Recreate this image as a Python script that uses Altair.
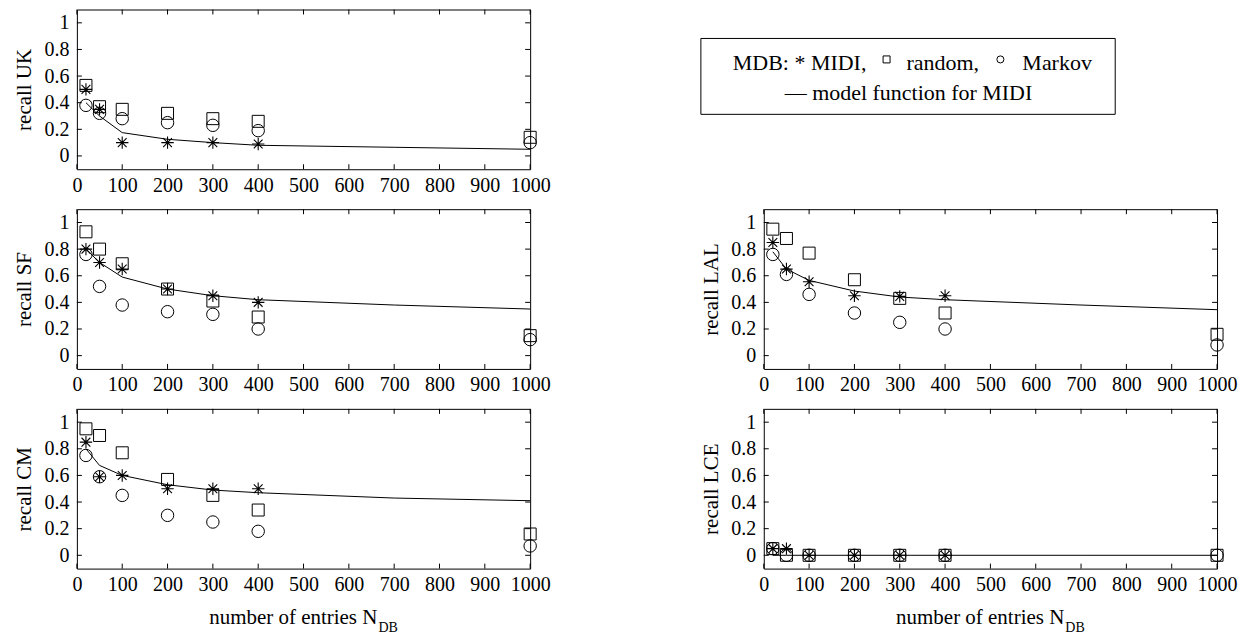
import altair as alt
import pandas as pd

# ---------------- data ----------------
x_pts = [20, 50, 100, 200, 300, 400, 1000]
x_midi = [20, 50, 100, 200, 300, 400]
x_model = [20, 50, 100, 200, 300, 400, 700, 1000]

x_ticks = [0, 100, 200, 300, 400, 500, 600, 700, 800, 900, 1000]
y_ticks = [0, 0.2, 0.4, 0.6, 0.8, 1]

uk_midi = [0.50, 0.35, 0.10, 0.10, 0.10, 0.09]
uk_random = [0.53, 0.37, 0.35, 0.32, 0.28, 0.26, 0.14]
uk_markov = [0.38, 0.32, 0.28, 0.25, 0.23, 0.19, 0.10]
uk_model = [0.40, 0.30, 0.175, 0.125, 0.10, 0.08, 0.065, 0.05]

sf_midi = [0.80, 0.70, 0.65, 0.50, 0.45, 0.40]
sf_random = [0.93, 0.80, 0.69, 0.50, 0.41, 0.29, 0.15]
sf_markov = [0.76, 0.52, 0.38, 0.33, 0.31, 0.20, 0.12]
sf_model = [0.80, 0.70, 0.59, 0.50, 0.45, 0.42, 0.38, 0.35]

lal_midi = [0.85, 0.65, 0.555, 0.45, 0.445, 0.45]
lal_random = [0.95, 0.88, 0.77, 0.57, 0.43, 0.32, 0.16]
lal_markov = [0.76, 0.61, 0.46, 0.32, 0.25, 0.20, 0.08]
lal_model = [0.78, 0.65, 0.565, 0.485, 0.44, 0.42, 0.38, 0.345]

cm_midi = [0.85, 0.59, 0.60, 0.50, 0.50, 0.50]
cm_random = [0.95, 0.90, 0.77, 0.57, 0.45, 0.34, 0.16]
cm_markov = [0.75, 0.59, 0.45, 0.30, 0.25, 0.18, 0.07]
cm_model = [0.80, 0.675, 0.60, 0.53, 0.49, 0.47, 0.43, 0.41]

lce_midi = [0.05, 0.05, 0.0, 0.0, 0.0, 0.0]
lce_random = [0.05, 0.0, 0.0, 0.0, 0.0, 0.0, 0.0]
lce_markov = [0.05, 0.0, 0.0, 0.0, 0.0, 0.0, 0.0]
lce_model = [0.0, 0.0, 0.0, 0.0, 0.0, 0.0, 0.0, 0.0]

x_title_main = "number of entries N"
x_title_sub = "DB"
legend_line1 = ["MDB: * MIDI,", "random,", "Markov"]
legend_line2 = "\u2014 model function for MIDI"

# ---------------- styling ----------------
W, H = 454, 160
FONT = "Liberation Serif, Times New Roman, serif"
TICK = 5
STAR = "M-1,0L1,0M0,-1L0,1M-0.707,-0.707L0.707,0.707M-0.707,0.707L0.707,-0.707"


def X():
    return alt.X("x:Q", scale=alt.Scale(domain=[0, 1000], nice=False, zero=False),
                 axis=alt.Axis(values=x_ticks, format="d", title=None, labelPadding=6,
                               labelOverlap=False, labelFlush=False))


def Y(title):
    return alt.Y("y:Q", scale=alt.Scale(domain=[-0.1, 1.1], nice=False, zero=False),
                 axis=alt.Axis(values=y_ticks, format="~g", title=title,
                               labelPadding=8, titlePadding=9, labelOverlap=False,
                               labelFlush=False))


def txt(s, size, x, y, align="left"):
    return alt.Chart(pd.DataFrame({"t": [s]})).mark_text(
        font=FONT, fontSize=size, align=align, baseline="alphabetic", color="black"
    ).encode(text="t:N", x=alt.value(x), y=alt.value(y))


def panel(label, midi, rnd, markov, model, xtitle=False):
    t = "recall " + label
    d_model = pd.DataFrame({"x": x_model, "y": model})
    d_midi = pd.DataFrame({"x": x_midi, "y": midi})
    d_rnd = pd.DataFrame({"x": x_pts, "y": rnd})
    d_mk = pd.DataFrame({"x": x_pts, "y": markov})
    d_xt = pd.DataFrame({"x": x_ticks})
    d_yt = pd.DataFrame({"y": y_ticks})

    line = alt.Chart(d_model).mark_line(color="black", strokeWidth=1).encode(x=X(), y=Y(t))
    stars = alt.Chart(d_midi).mark_point(shape=STAR, size=155, filled=False, color="black",
                                         strokeWidth=1.1, opacity=1).encode(x=X(), y=Y(t))
    squares = alt.Chart(d_rnd).mark_point(shape="square", size=144, filled=False, color="black",
                                          strokeWidth=1, opacity=1).encode(x=X(), y=Y(t))
    circles = alt.Chart(d_mk).mark_point(shape="circle", size=155, filled=False, color="black",
                                         strokeWidth=1, opacity=1).encode(x=X(), y=Y(t))
    tb = alt.Chart(d_xt).mark_rule(color="black", strokeWidth=1).encode(
        x=X(), y=alt.value(H), y2=alt.value(H - TICK))
    tt = alt.Chart(d_xt).mark_rule(color="black", strokeWidth=1).encode(
        x=X(), y=alt.value(0), y2=alt.value(TICK))
    tl = alt.Chart(d_yt).mark_rule(color="black", strokeWidth=1).encode(
        y=Y(t), x=alt.value(0), x2=alt.value(TICK))
    tr = alt.Chart(d_yt).mark_rule(color="black", strokeWidth=1).encode(
        y=Y(t), x=alt.value(W), x2=alt.value(W - TICK))
    layers = [line, circles, squares, stars, tb, tt, tl, tr]
    if xtitle:
        layers += [txt(x_title_main, 21, 301, H + 55, "right"),
                   txt(x_title_sub, 14, 302, H + 64)]
    return alt.layer(*layers).properties(width=W, height=H)


# legend panel (occupies the top-right cell; its box starts 63px left of the cell)
LX = -63
LW = 415
one = pd.DataFrame({"a": [0]})
box = alt.Chart(one).mark_rect(fill="white", stroke="black", strokeWidth=1).encode(
    x=alt.value(LX), x2=alt.value(LX + LW), y=alt.value(29), y2=alt.value(105))
lsq = alt.Chart(one).mark_point(shape="square", size=49, filled=False, color="black",
                                strokeWidth=1, opacity=1).encode(x=alt.value(LX + 186), y=alt.value(50))
lci = alt.Chart(one).mark_point(shape="circle", size=50, filled=False, color="black",
                                strokeWidth=1, opacity=1).encode(x=alt.value(LX + 300), y=alt.value(50))
legend = alt.layer(
    box,
    txt(legend_line1[0], 22, LX + 32, 61), lsq,
    txt(legend_line1[1], 22, LX + 206, 61), lci,
    txt(legend_line1[2], 22, LX + 322, 61),
    txt(legend_line2, 22, LX + 84, 91),
).properties(width=W, height=H, view=alt.ViewBackground(stroke="transparent"))

uk = panel("UK", uk_midi, uk_random, uk_markov, uk_model)
sf = panel("SF", sf_midi, sf_random, sf_markov, sf_model)
lal = panel("LAL", lal_midi, lal_random, lal_markov, lal_model)
cm = panel("CM", cm_midi, cm_random, cm_markov, cm_model, xtitle=True)
lce = panel("LCE", lce_midi, lce_random, lce_markov, lce_model, xtitle=True)

chart = alt.concat(uk, legend, sf, lal, cm, lce, columns=2,
                   spacing={"row": 40, "column": 234},
                   bounds="flush").properties(
    padding={"left": 5, "top": 0, "right": 5, "bottom": 0},
    background="white"
).configure(font=FONT).configure_view(stroke="black", strokeWidth=1).configure_axis(
    labelFont=FONT, labelFontSize=20, labelColor="black",
    titleFont=FONT, titleFontSize=21, titleFontWeight="normal", titleColor="black",
    domain=False, ticks=False, grid=False
).configure_text(font=FONT)

chart.save("out.html", embed_options={"renderer": "svg", "actions": False})
